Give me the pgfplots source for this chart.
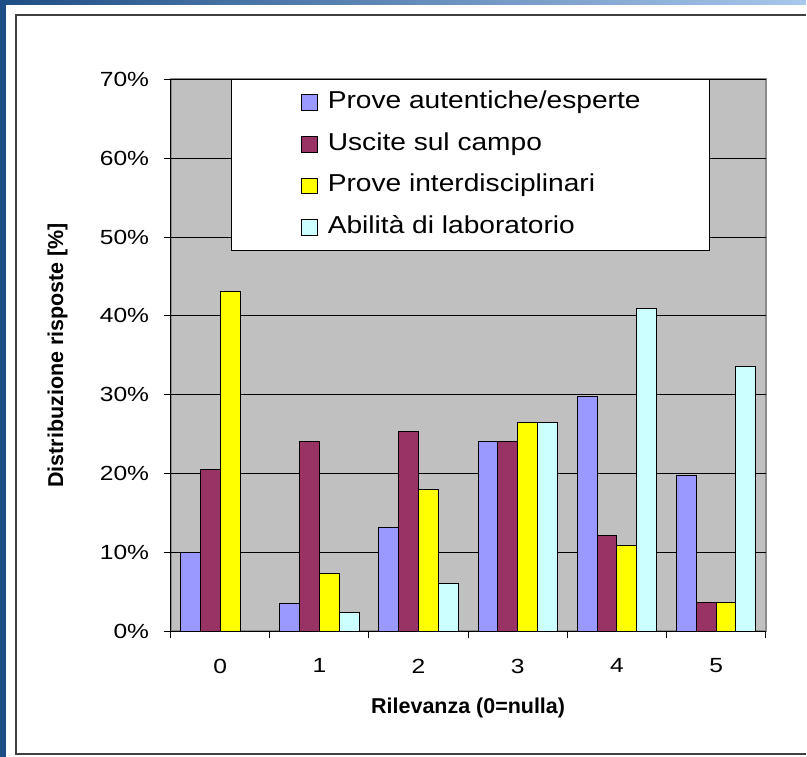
\documentclass[border=0pt]{standalone}
\usepackage{fontspec}
\setmainfont{Liberation Sans}
\newfontfamily\wide{Liberation Sans}[FakeStretch=1.15]
\newfontfamily\wider{Liberation Sans}[FakeStretch=1.2]
\usepackage{pgfplots}
\pgfplotsset{compat=1.18}
\definecolor{cA}{HTML}{9999FF}
\definecolor{cB}{HTML}{993366}
\definecolor{cC}{HTML}{FFFF00}
\definecolor{cD}{HTML}{CCFFFF}
\definecolor{plotbg}{HTML}{C0C0C0}
\definecolor{bgdark}{HTML}{1E4E86}
\definecolor{bglight}{HTML}{A8C8EC}
\begin{document}
\begin{tikzpicture}[x=1pt,y=1pt]
\shade[left color=bgdark, right color=bglight] (0,0) rectangle (807,758);
\fill[white] (6,0) rectangle (807,753);
\draw[line width=2.5pt, black!75] (807,743) -- (16,743) -- (16,3) -- (807,3);
\begin{axis}[
  at={(172,159)}, anchor=south west,
  scale only axis, width=596pt, height=553pt,
  xmin=-0.5, xmax=5.5, ymin=0, ymax=70,
  axis x line*=bottom, axis y line*=left,
  axis line style={-, black, line width=1.2pt},
  axis background/.style={fill=plotbg, draw=black!45, line width=2pt},
  ymajorgrids, major grid style={black, line width=0.9pt},
  tick align=outside, major tick length=7pt,
  every tick/.style={black, line width=1pt},
  ytick={0,10,20,30,40,50,60,70},
  yticklabels={0\%,10\%,20\%,30\%,40\%,50\%,60\%,70\%},
  xtick={-0.5,0.5,1.5,2.5,3.5,4.5,5.5},
  xticklabels={{},{},{},{},{},{},{}},
  extra x ticks={0,1,2,3,4,5},
  extra x tick labels={0,1,2,3,4,5},
  extra x tick style={major tick length=0pt},
  tick label style={font=\wider\fontsize{20.5}{24}\selectfont},
  xticklabel style={yshift=-24pt},
  yticklabel style={xshift=-11pt},
  xlabel={Rilevanza (0=nulla)},
  ylabel={Distribuzione risposte [\%]},
  label style={font=\bfseries\fontsize{21.5}{25}\selectfont},
  xlabel style={at={(axis description cs:0.5,-0.139)}, anchor=center},
  ylabel style={at={(axis description cs:-0.19,0.5)}, anchor=center},
  legend style={at={(axis description cs:0.1023,1)}, anchor=north west,
    draw=black, fill=white, line width=1pt,
    inner xsep=69pt, inner ysep=12pt, row sep=19.7pt, column sep=10pt,
    font=\wide\fontsize{24.5}{28}\selectfont,
    nodes={inner sep=0pt, text height=17pt, text depth=5pt}},
  legend cell align=left,
  legend image code/.code={\draw[#1, line width=1pt] (0pt,-8pt) rectangle (16pt,8pt);},
]
\addplot[ybar, bar width=0.2, bar shift=-0.3, fill=cA, draw=black, line width=1pt]
  coordinates {(0,10) (1,3.5) (2,13.2) (3,24.1) (4,29.8) (5,19.8)};
\addplot[ybar, bar width=0.2, bar shift=-0.1, fill=cB, draw=black, line width=1pt]
  coordinates {(0,20.5) (1,24.1) (2,25.3) (3,24.1) (4,12.2) (5,3.7)};
\addplot[ybar, bar width=0.2, bar shift=0.1, fill=cC, draw=black, line width=1pt]
  coordinates {(0,43.1) (1,7.3) (2,18.0) (3,26.5) (4,10.9) (5,3.7)};
\addplot[ybar, bar width=0.2, bar shift=0.3, fill=cD, draw=black, line width=1pt]
  coordinates {(1,2.4) (2,6.1) (3,26.5) (4,40.9) (5,33.6)};
\legend{Prove autentiche/esperte, Uscite sul campo, Prove interdisciplinari, Abilità di laboratorio}
\end{axis}
\end{tikzpicture}
\end{document}
